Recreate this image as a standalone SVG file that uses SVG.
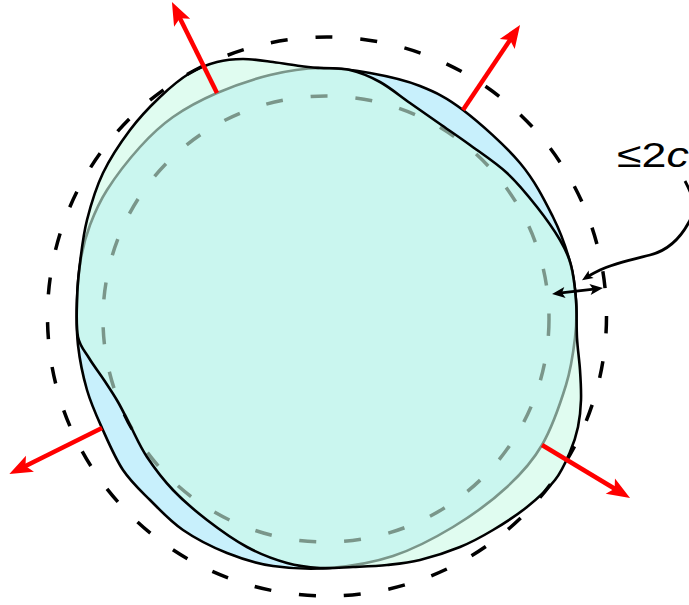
<svg xmlns="http://www.w3.org/2000/svg" width="689" height="605" viewBox="0 0 689 605">
<style>
.outline{stroke:#000;stroke-width:2.6;stroke-linejoin:round}
.dash-outer{fill:none;stroke:#000;stroke-width:3.5;stroke-dasharray:17 28}
.dash-inner{fill:none;stroke:#000;stroke-width:3.5;stroke-dasharray:17 28}
.red{fill:none;stroke:#ff0000;stroke-width:4.5;marker-end:url(#redhead)}
.blk{fill:none;stroke:#000;stroke-width:2.8}
.label{font-family:"Liberation Sans",Arial,sans-serif;font-size:35px;fill:#000}
</style>
<defs>
<marker id="redhead" markerUnits="userSpaceOnUse" viewBox="-12 -10 26 20" markerWidth="26" markerHeight="20" refX="0" refY="0" orient="auto" overflow="visible">
<path d="M13,0 L-10,-9 L-5,0 L-10,9 Z" fill="#ff0000"/>
</marker>
<marker id="blkhead" markerUnits="userSpaceOnUse" viewBox="-8 -6 16 12" markerWidth="16" markerHeight="12" refX="0" refY="0" orient="auto-start-reverse" overflow="visible">
<path d="M7,0 L-6,-5.5 L-3,0 L-6,5.5 Z" fill="#000"/>
</marker>
<marker id="smallhead" markerUnits="userSpaceOnUse" viewBox="-8 -6 16 12" markerWidth="16" markerHeight="12" refX="0" refY="0" orient="auto" overflow="visible">
<path d="M6,0 L-5,-4.5 L-2.5,0 L-5,4.5 Z" fill="#000"/>
</marker>
</defs>

<g id="shape-blue">
<path class="outline" fill="#c8f0fc" d="M320,68 C336.7,67.7 353.3,70 370,73 S404.5,79.8 420,86 S446.3,97.2 463,110 S505,145.2 520,163 S544.7,200.5 553,217 S566.2,248.2 570,262 S575.2,287.3 576,300 S576.7,323.8 575,338 S571.5,367.2 566,385 S551.8,428 542,445 S521.8,473.3 507,487 S472,515.5 453,527 S413.5,549.2 393,556 S350,566.3 330,568 S290.2,568.5 273,566 S242,559 227,553 S195.8,538.8 183,530 S160,510 150,500 S131,482 123,470 S108,441.3 102,428 S91,403.8 87,390 S79.7,360 78,345 S76.5,314.5 77,300 S78.8,270.5 81,258 S85.7,236.3 90,225 S98.7,203 107,190 S129,159.2 140,147 S160.2,126 173,117 S200.8,100 217,93 S252.8,79.2 270,75 S303.3,68.3 320,68 Z"/>
</g>

<g id="circle-inner">
<circle class="dash-inner" cx="326" cy="319" r="223"/>
</g>

<g id="shape-green">
<path class="outline" fill="#cbfae6" fill-opacity="0.6" d="M320,68 C328.3,68.7 340,67.7 350,70 S370,76.5 380,82 S400,96 410,103 S430,117 440,124 S458.8,136.8 470,145 S495.8,162.7 507,173 S528.2,195.8 537,207 S554.3,230.3 560,240 S568.3,255 571,265 S575,287.8 576,300 S576.3,326.3 577,338 S579.3,359.7 580,370 S581.3,390.5 581,400 S579.8,418.3 578,427 S573.8,443.2 570,452 S562.2,470.8 555,480 S537.3,498.7 527,507 S504.2,523.3 493,530 S472.2,542 460,547 S432.2,557 420,560 S398.2,563.8 387,565 S364.2,566.5 353,567 S331,568.7 320,568 S299.2,566.5 287,563 S260.3,554.2 247,547 S219.3,529.5 207,520 S183,500.5 173,490 S154.2,467.8 147,457 S134.8,434.2 130,425 S122.3,409.5 118,402 S108.8,387.3 104,380 S93.3,365.2 89,358 S80,346.7 78,337 S76.7,312.3 77,300 S78.3,276.3 80,263 S83.2,235 87,220 S95.8,188 103,173 S120.5,142.7 130,130 S150,106.5 160,97 S180.5,78.8 190,73 S208.2,64.3 217,62 S233.7,59 243,59 S263.5,60.8 273,62 S292.2,65 300,66 S311.7,67.3 320,68 Z"/>
</g>

<g id="circle-outer">
<circle class="dash-outer" cx="327" cy="316.5" r="279.5"/>
</g>

<g id="connectors">
<line class="red" x1="217" y1="93" x2="177.7" y2="13.7"/>
<line class="red" x1="463" y1="110" x2="512.8" y2="35.8"/>
<line class="red" x1="542" y1="445" x2="618.9" y2="491.3"/>
<line class="red" x1="102" y1="428" x2="21" y2="468.2"/>
<line class="blk" x1="559" y1="293.2" x2="596" y2="288.8" marker-start="url(#blkhead)" marker-end="url(#blkhead)"/>
<path class="blk" stroke-width="2" d="M685,181 C693,196 697,208 689,222 C681,237 670,250 650,255 C630,260 612,264 600,270 C594,273 590,275 587,277" marker-end="url(#smallhead)"/>
</g>

<g id="label">
<text class="label" transform="translate(617,167) scale(1.28,1)">≤2<tspan font-style="italic">c</tspan></text>
</g>
</svg>
